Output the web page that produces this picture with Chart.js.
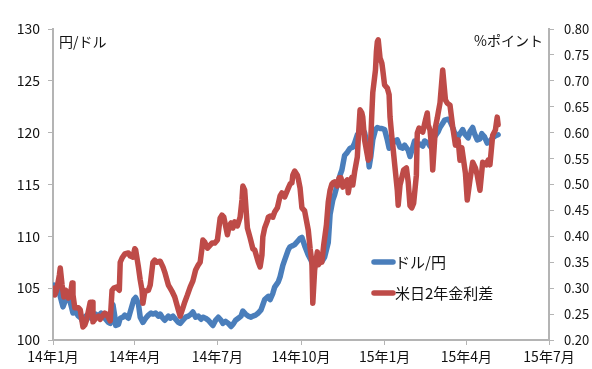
<!DOCTYPE html>
<html>
<head>
<meta charset="utf-8">
<script src="https://cdn.jsdelivr.net/npm/chart.js@4.4.1/dist/chart.umd.min.js"></script>
<style>
  html, body { margin: 0; padding: 0; background: #ffffff; }
  canvas { display: block; }
</style>
</head>
<body>
<canvas id="chart" width="592" height="369"></canvas>
<script>
// ドル/円 (left axis, 円)
const usdJpyDates = [
  '2014-01-02','2014-01-04','2014-01-07','2014-01-09','2014-01-12','2014-01-15','2014-01-18','2014-01-21','2014-01-23','2014-01-26',
  '2014-01-29','2014-02-01','2014-02-03','2014-02-06','2014-02-09','2014-02-12','2014-02-14','2014-02-17','2014-02-20','2014-02-23',
  '2014-02-25','2014-02-28','2014-03-03','2014-03-05','2014-03-07','2014-03-08','2014-03-10','2014-03-11','2014-03-14','2014-03-16',
  '2014-03-19','2014-03-21','2014-03-25','2014-03-27','2014-03-29','2014-03-31','2014-04-02','2014-04-05','2014-04-07','2014-04-10',
  '2014-04-13','2014-04-16','2014-04-19','2014-04-21','2014-04-24','2014-04-27','2014-04-29','2014-05-02','2014-05-04','2014-05-08',
  '2014-05-10','2014-05-13','2014-05-15','2014-05-19','2014-05-21','2014-05-24','2014-05-27','2014-05-30','2014-06-02','2014-06-04',
  '2014-06-07','2014-06-10','2014-06-13','2014-06-15','2014-06-18','2014-06-21','2014-06-24','2014-06-26','2014-06-29','2014-07-02',
  '2014-07-05','2014-07-07','2014-07-10','2014-07-13','2014-07-16','2014-07-18','2014-07-21','2014-07-24','2014-07-27','2014-07-29',
  '2014-08-01','2014-08-04','2014-08-07','2014-08-09','2014-08-12','2014-08-15','2014-08-18','2014-08-20','2014-08-22','2014-08-26',
  '2014-08-28','2014-08-31','2014-09-02','2014-09-06','2014-09-08','2014-09-11','2014-09-13','2014-09-17','2014-09-19','2014-09-22',
  '2014-09-24','2014-09-28','2014-09-30','2014-10-02','2014-10-05','2014-10-09','2014-10-12','2014-10-14','2014-10-18','2014-10-20',
  '2014-10-23','2014-10-25','2014-10-27','2014-10-31','2014-11-02','2014-11-05','2014-11-07','2014-11-10','2014-11-13','2014-11-15',
  '2014-11-18','2014-11-21','2014-11-24','2014-11-27','2014-11-29','2014-12-02','2014-12-05','2014-12-08','2014-12-10','2014-12-13',
  '2014-12-15','2014-12-17','2014-12-19','2014-12-22','2014-12-24','2014-12-27','2014-12-29','2015-01-01','2015-01-04','2015-01-06',
  '2015-01-09','2015-01-12','2015-01-15','2015-01-18','2015-01-21','2015-01-23','2015-01-27','2015-01-29','2015-02-01','2015-02-03',
  '2015-02-07','2015-02-09','2015-02-12','2015-02-14','2015-02-18','2015-02-20','2015-02-23','2015-02-25','2015-03-01','2015-03-03',
  '2015-03-06','2015-03-08','2015-03-12','2015-03-14','2015-03-17','2015-03-19','2015-03-23','2015-03-25','2015-03-28','2015-03-30',
  '2015-04-03','2015-04-05','2015-04-08','2015-04-10','2015-04-13','2015-04-16','2015-04-18','2015-04-21','2015-04-24','2015-04-27',
  '2015-04-30','2015-05-03','2015-05-06'
];
const usdJpyValues = [
  105.3,104.8,105.0,104.2,103.2,103.9,104.3,103.3,102.6,102.7,
  102.3,102.1,101.7,102.3,102.5,102.1,102.3,102.5,102.3,102.6,
  102.3,102.0,101.7,101.6,102.9,103.4,102.3,101.4,101.5,102.1,
  102.2,102.4,102.1,102.7,103.3,103.9,104.1,103.5,102.2,101.7,
  102.1,102.4,102.6,102.5,102.6,102.3,102.5,102.1,101.9,102.3,
  102.1,102.3,102.1,101.7,101.6,101.9,102.2,102.3,102.5,102.7,
  102.2,102.3,102.0,102.2,102.1,101.9,101.6,101.4,101.9,102.2,
  101.9,101.6,101.8,101.6,101.3,101.5,101.9,102.1,102.3,102.8,
  102.5,102.3,102.2,102.3,102.4,102.6,102.9,103.4,103.9,104.2,
  103.9,104.5,105.1,105.6,106.1,107.2,107.7,108.7,109.0,109.1,
  109.2,109.6,109.8,109.9,109.1,108.2,107.7,107.2,107.3,107.5,
  107.9,107.7,108.0,109.4,112.1,113.5,114.0,115.0,115.9,116.4,
  117.8,118.1,118.5,118.6,119.0,119.8,120.0,120.3,120.0,118.8,
  116.7,117.8,119.3,120.3,120.5,120.4,120.4,120.3,119.3,118.5,
  118.8,119.2,119.3,118.6,118.5,118.8,118.3,117.7,118.6,119.2,
  118.8,118.9,118.7,119.2,119.0,118.7,119.1,119.6,120.1,120.5,
  120.9,121.2,121.3,121.1,120.5,120.0,119.6,119.9,120.3,119.9,
  119.5,120.1,120.5,119.9,119.3,119.4,119.9,119.6,119.0,119.2,
  119.5,119.7,119.8
];

// 米日2年金利差 (right axis, %ポイント)
const spreadDates = [
  '2014-01-02','2014-01-03','2014-01-05','2014-01-08','2014-01-09','2014-01-11','2014-01-13','2014-01-15','2014-01-18','2014-01-20',
  '2014-01-22','2014-01-23','2014-01-25','2014-01-29','2014-01-31','2014-02-03','2014-02-05','2014-02-07','2014-02-11','2014-02-13',
  '2014-02-14','2014-02-17','2014-02-20','2014-02-22','2014-02-25','2014-02-27','2014-03-01','2014-03-05','2014-03-07','2014-03-09',
  '2014-03-12','2014-03-15','2014-03-16','2014-03-18','2014-03-21','2014-03-25','2014-03-27','2014-03-30','2014-04-01','2014-04-02',
  '2014-04-05','2014-04-07','2014-04-09','2014-04-10','2014-04-12','2014-04-16','2014-04-18','2014-04-21','2014-04-23','2014-04-25',
  '2014-04-29','2014-05-02','2014-05-04','2014-05-08','2014-05-10','2014-05-12','2014-05-15','2014-05-19','2014-05-21','2014-05-24',
  '2014-05-26','2014-05-29','2014-06-01','2014-06-04','2014-06-07','2014-06-10','2014-06-12','2014-06-14','2014-06-15','2014-06-17',
  '2014-06-20','2014-06-23','2014-06-25','2014-06-28','2014-07-01','2014-07-04','2014-07-06','2014-07-08','2014-07-12','2014-07-14',
  '2014-07-16','2014-07-18','2014-07-20','2014-07-23','2014-07-26','2014-07-28','2014-07-29','2014-07-31','2014-08-03','2014-08-06',
  '2014-08-09','2014-08-11','2014-08-15','2014-08-17','2014-08-19','2014-08-20','2014-08-22','2014-08-25','2014-08-26','2014-08-28',
  '2014-08-31','2014-09-02','2014-09-05','2014-09-08','2014-09-10','2014-09-13','2014-09-17','2014-09-19','2014-09-21','2014-09-22',
  '2014-09-24','2014-09-27','2014-09-28','2014-09-30','2014-10-02','2014-10-05','2014-10-09','2014-10-11','2014-10-13','2014-10-14',
  '2014-10-16','2014-10-19','2014-10-20','2014-10-22','2014-10-24','2014-10-26','2014-10-29','2014-10-31','2014-11-02','2014-11-04',
  '2014-11-05','2014-11-07','2014-11-10','2014-11-12','2014-11-14','2014-11-16','2014-11-18','2014-11-21','2014-11-22','2014-11-24',
  '2014-11-26','2014-11-27','2014-11-29','2014-12-02','2014-12-03','2014-12-05','2014-12-07','2014-12-08','2014-12-10','2014-12-13',
  '2014-12-14','2014-12-16','2014-12-18','2014-12-19','2014-12-22','2014-12-23','2014-12-24','2014-12-25','2014-12-27','2014-12-29',
  '2014-12-30','2015-01-01','2015-01-04','2015-01-06','2015-01-07','2015-01-09','2015-01-10','2015-01-12','2015-01-15','2015-01-16',
  '2015-01-18','2015-01-20','2015-01-22','2015-01-25','2015-01-27','2015-01-29','2015-01-31','2015-02-02','2015-02-05','2015-02-06',
  '2015-02-08','2015-02-09','2015-02-12','2015-02-15','2015-02-17','2015-02-18','2015-02-20','2015-02-22','2015-02-23','2015-02-26',
  '2015-02-28','2015-03-01','2015-03-03','2015-03-06','2015-03-09','2015-03-11','2015-03-14','2015-03-17','2015-03-20','2015-03-23',
  '2015-03-25','2015-03-27','2015-03-31','2015-04-02','2015-04-05','2015-04-08','2015-04-11','2015-04-13','2015-04-16','2015-04-19',
  '2015-04-23','2015-04-25','2015-04-27','2015-04-30','2015-05-03','2015-05-05','2015-05-06'
];
const spreadValues = [
  0.300,0.287,0.296,0.325,0.339,0.306,0.283,0.296,0.281,0.285,
  0.310,0.287,0.262,0.262,0.258,0.225,0.229,0.239,0.273,0.273,
  0.235,0.242,0.246,0.240,0.248,0.252,0.250,0.237,0.296,0.300,
  0.302,0.296,0.350,0.358,0.366,0.368,0.362,0.360,0.376,0.374,
  0.341,0.316,0.296,0.271,0.293,0.296,0.306,0.350,0.354,0.350,
  0.352,0.341,0.331,0.306,0.300,0.294,0.283,0.258,0.246,0.262,
  0.273,0.287,0.302,0.314,0.335,0.345,0.350,0.377,0.393,0.389,
  0.377,0.383,0.387,0.387,0.393,0.435,0.441,0.437,0.403,0.420,
  0.426,0.416,0.428,0.420,0.437,0.470,0.497,0.489,0.416,0.397,
  0.376,0.374,0.350,0.341,0.364,0.399,0.416,0.430,0.437,0.439,
  0.437,0.447,0.455,0.478,0.484,0.476,0.493,0.501,0.503,0.518,
  0.526,0.518,0.511,0.493,0.455,0.449,0.412,0.377,0.350,0.271,
  0.335,0.370,0.345,0.350,0.350,0.383,0.422,0.466,0.489,0.501,
  0.503,0.505,0.497,0.513,0.513,0.495,0.503,0.509,0.484,0.505,
  0.514,0.499,0.524,0.553,0.586,0.644,0.638,0.630,0.586,0.557,
  0.547,0.553,0.638,0.677,0.721,0.756,0.775,0.779,0.744,0.734,
  0.721,0.692,0.686,0.673,0.630,0.592,0.576,0.541,0.489,0.460,
  0.499,0.513,0.528,0.532,0.505,0.459,0.455,0.464,0.518,0.599,
  0.609,0.605,0.601,0.624,0.638,0.615,0.605,0.567,0.528,0.611,
  0.628,0.638,0.657,0.721,0.663,0.657,0.653,0.611,0.576,0.586,
  0.547,0.571,0.522,0.470,0.509,0.543,0.532,0.518,0.489,0.543,
  0.538,0.547,0.538,0.595,0.605,0.630,0.615
];

// Quarterly date-axis ticks
const monthTickDates = ['2014-01-01','2014-04-01','2014-07-01','2014-10-01','2015-01-01','2015-04-01','2015-07-01'];
const monthTickLabels = ['14年1月','14年4月','14年7月','14年10月','15年1月','15年4月','15年7月'];

const seriesNames = ['ドル/円', '米日2年金利差'];
const seriesColors = ['#4a7ebb', '#be4b48'];
const axisTitles = ['円/ドル', '%ポイント'];

const BASE_DAY = Date.UTC(2014, 0, 1);
function dayIndex(s) {
  const [y, m, d] = s.split('-').map(Number);
  return (Date.UTC(y, m - 1, d) - BASE_DAY) / 86400000;
}
const tickDays = monthTickDates.map(dayIndex);

const FONT = "'Noto Sans CJK JP', 'Noto Sans', sans-serif";
const TEXT = '#111111';
const AXIS = '#b4b4b4';

Chart.defaults.font.family = FONT;
Chart.defaults.font.size = 14;
Chart.defaults.color = TEXT;

// Axis unit captions and the in-plot legend
const overlayText = {
  id: 'overlayText',
  afterDatasetsDraw(chart) {
    const ctx = chart.ctx;
    const area = chart.chartArea;
    ctx.save();
    ctx.fillStyle = TEXT;
    ctx.font = '14px ' + FONT;
    ctx.textBaseline = 'middle';
    ctx.textAlign = 'left';
    ctx.fillText(axisTitles[0], area.left + 6, area.top + 13);
    ctx.textAlign = 'right';
    ctx.fillText(axisTitles[1], area.right - 6, area.top + 12);

    // legend, blue first
    ctx.font = '15px ' + FONT;
    const lx = 374, ly = [262, 293];
    [0, 1].forEach((i) => {
      ctx.strokeStyle = seriesColors[i];
      ctx.lineWidth = 5.5;
      ctx.lineCap = 'round';
      ctx.beginPath();
      ctx.moveTo(lx, ly[i]);
      ctx.lineTo(lx + 19, ly[i]);
      ctx.stroke();
      ctx.textAlign = 'left';
      ctx.fillStyle = TEXT;
      ctx.fillText(seriesNames[i], lx + 21, ly[i]);
    });
    ctx.restore();
  }
};

new Chart(document.getElementById('chart'), {
  type: 'line',
  data: {
    datasets: [
      {
        label: seriesNames[0],
        data: usdJpyDates.map((d, i) => ({ x: dayIndex(d), y: usdJpyValues[i] })),
        yAxisID: 'y',
        borderColor: seriesColors[0],
        borderWidth: 5.5,
        pointRadius: 0,
        tension: 0,
        borderJoinStyle: 'round',
        borderCapStyle: 'round',
        order: 1
      },
      {
        label: seriesNames[1],
        data: spreadDates.map((d, i) => ({ x: dayIndex(d), y: spreadValues[i] })),
        yAxisID: 'y1',
        borderColor: seriesColors[1],
        borderWidth: 5.5,
        pointRadius: 0,
        tension: 0,
        borderJoinStyle: 'round',
        borderCapStyle: 'round',
        order: 0
      }
    ]
  },
  options: {
    responsive: false,
    animation: false,
    layout: { padding: { top: 29, left: 0, right: 0, bottom: 0 } },
    plugins: { legend: { display: false }, tooltip: { enabled: false } },
    scales: {
      x: {
        type: 'linear',
        min: tickDays[0],
        max: tickDays[tickDays.length - 1],
        afterBuildTicks: (scale) => { scale.ticks = tickDays.map((v) => ({ value: v })); },
        afterFit: (scale) => { scale.height = 29; },
        grid: { drawOnChartArea: false, drawTicks: true, tickLength: 5, color: AXIS, tickColor: AXIS },
        border: { display: true, color: AXIS, width: 2 },
        ticks: {
          autoSkip: false,
          maxRotation: 0,
          padding: 3,
          callback: (value) => {
            const i = tickDays.indexOf(value);
            return i >= 0 ? monthTickLabels[i] : '';
          }
        }
      },
      y: {
        position: 'left',
        min: 100,
        max: 130,
        afterFit: (scale) => { scale.width = 53; },
        grid: { drawOnChartArea: false, drawTicks: true, tickLength: 5, color: AXIS, tickColor: AXIS },
        border: { display: true, color: AXIS, width: 2 },
        ticks: { stepSize: 5, padding: 8 }
      },
      y1: {
        position: 'right',
        min: 0.2,
        max: 0.8,
        afterFit: (scale) => { scale.width = 43; },
        grid: { drawOnChartArea: false, drawTicks: true, tickLength: 5, color: AXIS, tickColor: AXIS },
        border: { display: true, color: AXIS, width: 2 },
        ticks: { stepSize: 0.05, padding: 10, font: { size: 13 }, callback: (v) => Number(v).toFixed(2) }
      }
    }
  },
  plugins: [overlayText]
});
</script>
</body>
</html>
